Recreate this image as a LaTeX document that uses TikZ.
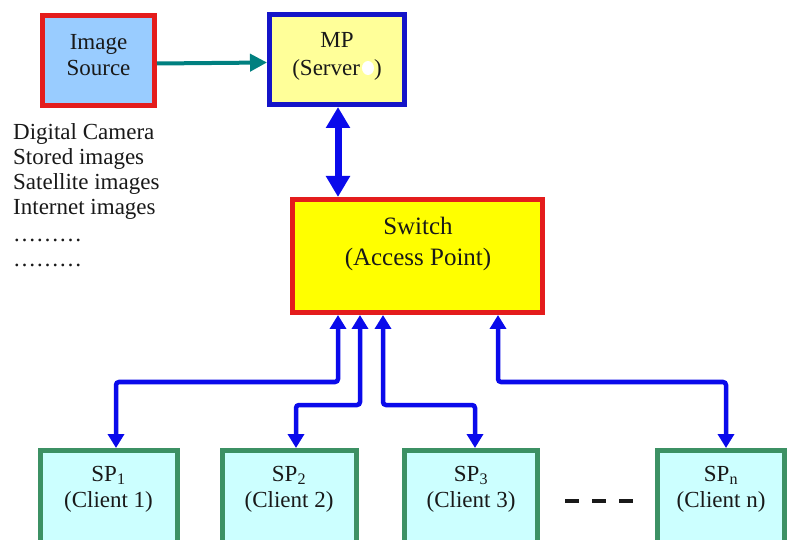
\documentclass[tikz,border=0pt]{standalone}
\usepackage{fontspec}
\setmainfont{Liberation Serif}
\usetikzlibrary{arrows.meta}
\definecolor{cred}{RGB}{228,28,28}
\definecolor{cblue}{RGB}{20,20,200}
\definecolor{abl}{RGB}{10,10,235}
\definecolor{cteal}{RGB}{0,128,128}
\definecolor{lblue}{RGB}{153,204,255}
\definecolor{lyel}{RGB}{255,255,153}
\definecolor{yel}{RGB}{255,255,0}
\definecolor{lcyan}{RGB}{204,255,255}
\definecolor{cgreen}{RGB}{60,145,100}
\definecolor{txtc}{RGB}{25,25,25}
\begin{document}
\begin{tikzpicture}[x=1pt,y=-1pt,
  box/.style={draw, line width=5pt, inner sep=0pt},
  txt/.style={text=txtc, font=\fontsize{23}{27}\selectfont, inner sep=0pt, anchor=base},
  ltxt/.style={txt, anchor=base west},
  swtxt/.style={txt, font=\fontsize{25}{30}\selectfont},
  bus/.style={draw=abl, line width=4.5pt, rounded corners=3pt,
    {Triangle[length=14pt,width=16pt]}-{Triangle[length=14pt,width=16pt]}},
  vbus/.style={draw=abl, line width=7pt,
    {Triangle[length=21pt,width=23pt]}-{Triangle[length=21pt,width=23pt]}},
  feed/.style={draw=cteal, line width=4pt, -{Triangle[length=17pt,width=17pt]}}
]
\useasboundingbox (0,0) rectangle (788,540);
\fill[white] (0,0) rectangle (788,540);

% top boxes
\node[box, draw=cred, fill=lblue, minimum width=112pt, minimum height=90pt] (src) at (98.5,60.5) {};
\node[box, draw=cblue, fill=lyel, minimum width=135pt, minimum height=90pt] (mp) at (337,59.5) {};
\node[box, draw=cred, fill=yel, minimum width=250pt, minimum height=113pt] (sw) at (417.5,256) {};

% client boxes (cut by lower edge)
\begin{scope}
\clip (0,0) rectangle (788,540);
\node[box, draw=cgreen, fill=lcyan, minimum width=137pt, minimum height=92pt] (sp1) at (109,496.5) {};
\node[box, draw=cgreen, fill=lcyan, minimum width=134pt, minimum height=92pt] (sp2) at (289.5,496.5) {};
\node[box, draw=cgreen, fill=lcyan, minimum width=133pt, minimum height=92pt] (sp3) at (471,496.5) {};
\node[box, draw=cgreen, fill=lcyan, minimum width=127pt, minimum height=92pt] (spn) at (721,496.5) {};
\end{scope}

% texts in boxes
\node[txt] (timg) at (98.5,50) {Image};
\node[txt] (tsrc) at (98.5,76) {Source};
\node[txt] (tmp) at (337,48) {MP};
\node[txt] (tsrv) at (337,76) {(Server\hspace{14pt})};
\fill[white] (368,68) ellipse [x radius=6, y radius=7];
\node[swtxt] (tsw) at (418,235) {Switch};
\node[swtxt] (tap) at (418,266) {(Access Point)};

\node[txt] (tsp1) at (108.5,481) {SP\textsubscript{1}};
\node[txt] (tcl1) at (108.5,507) {(Client 1)};
\node[txt] (tsp2) at (289,481) {SP\textsubscript{2}};
\node[txt] (tcl2) at (289,507) {(Client 2)};
\node[txt] (tsp3) at (471,481) {SP\textsubscript{3}};
\node[txt] (tcl3) at (471,507) {(Client 3)};
\node[txt] (tspn) at (721,481) {SP\textsubscript{n}};
\node[txt] (tcln) at (721,507) {(Client n)};

% source list
\node[ltxt] (l1) at (13,140) {Digital Camera};
\node[ltxt] (l2) at (13,165) {Stored images};
\node[ltxt] (l3) at (13,190) {Satellite images};
\node[ltxt] (l4) at (13,215) {Internet images};
\node[ltxt] (l5) at (13,242) {………};
\node[ltxt] (l6) at (13,267) {………};

% connectors
\draw[feed] ([yshift=-3pt]src.east) -- ([yshift=-3pt]mp.west);
\coordinate (m) at (338,0);
\draw[vbus] (mp.south -| m) -- (sw.north -| m);

\coordinate (a1) at (338,0); \coordinate (h1) at (0,382); \coordinate (b1) at (116,0);
\coordinate (a2) at (360,0); \coordinate (h2) at (0,405); \coordinate (b2) at (296,0);
\coordinate (a3) at (383,0); \coordinate (h3) at (0,405); \coordinate (b3) at (475,0);
\coordinate (a4) at (498,0); \coordinate (h4) at (0,382); \coordinate (b4) at (726,0);

\draw[bus] (sw.south -| a1) -- (a1 |- h1) -- (b1 |- h1) -- (sp1.north -| b1);
\draw[bus] (sw.south -| a2) -- (a2 |- h2) -- (b2 |- h2) -- (sp2.north -| b2);
\draw[bus] (sw.south -| a3) -- (a3 |- h3) -- (b3 |- h3) -- (sp3.north -| b3);
\draw[bus] (sw.south -| a4) -- (a4 |- h4) -- (b4 |- h4) -- (spn.north -| b4);

% ellipsis between clients
\coordinate (d1) at (565,501);
\coordinate (d2) at (633,501);
\draw[line width=4pt, txtc, dash pattern=on 14pt off 13pt] (d1) -- (d2);
\end{tikzpicture}
\end{document}
